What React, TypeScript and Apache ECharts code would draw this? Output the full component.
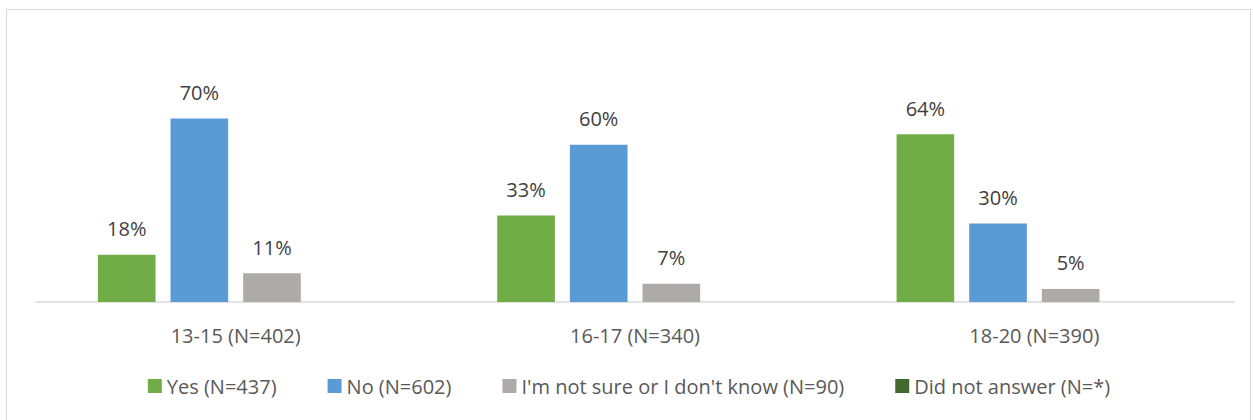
import React, { useEffect, useRef } from "react";
import * as echarts from "echarts";

const categories = ["13-15 (N=402)", "16-17 (N=340)", "18-20 (N=390)"];
const seriesNames = [
  "Yes (N=437)",
  "No (N=602)",
  "I'm not sure or I don't know (N=90)",
  "Did not answer (N=*)",
];
const yesValues = [18, 33, 64];
const noValues = [70, 60, 30];
const notSureValues = [11, 7, 5];
const noAnswerValues = [0, 0, 0];
const colors = ["#70AD47", "#5B9BD5", "#AEAAAA", "#43682B"];

export default function App() {
  const ref = useRef<HTMLDivElement>(null);
  useEffect(() => {
    document.body.style.margin = "0";
    const chart = echarts.init(ref.current!, null, { renderer: "svg" });
    const font = "'Open Sans', 'Noto Sans', sans-serif";
    const values = [yesValues, noValues, notSureValues, noAnswerValues];
    chart.setOption({
      animation: false,
      textStyle: { fontFamily: font },
      grid: { left: 29, right: 17, top: 30, bottom: 118, containLabel: false },
      legend: {
        data: seriesNames,
        bottom: 19,
        left: "center",
        itemWidth: 14,
        itemHeight: 14,
        itemGap: 51,
        icon: "rect",
        textStyle: { color: "#595959", fontSize: 20, fontFamily: font },
      },
      xAxis: {
        type: "category",
        data: categories,
        axisLine: { lineStyle: { color: "#D9D9D9", width: 1.5 } },
        axisTick: { show: false },
        axisLabel: { color: "#595959", fontSize: 20, margin: 23, fontFamily: font },
      },
      yAxis: {
        type: "value",
        min: 0,
        max: 100,
        show: false,
        splitLine: { show: false },
      },
      series: seriesNames.map((name, i) => ({
        name,
        type: "bar",
        data: values[i],
        barGap: "26%",
        barCategoryGap: "31%",
        itemStyle: { color: colors[i] },
        label: {
          show: i < 3,
          position: "top",
          distance: 16,
          formatter: "{c}%",
          color: "#404040",
          fontSize: 20,
          fontFamily: font,
        },
      })),
    });
    return () => chart.dispose();
  }, []);
  return (
    <div style={{ position: "relative", width: 1253, height: 420, overflow: "hidden", background: "#fff" }}>
      <div
        style={{
          position: "absolute",
          left: 6,
          top: 9,
          width: 1245,
          height: 430,
          border: "1.5px solid #D9D9D9",
          boxSizing: "border-box",
        }}
      />
      <div ref={ref} style={{ position: "absolute", left: 7, top: 10, width: 1244, height: 410 }} />
    </div>
  );
}
